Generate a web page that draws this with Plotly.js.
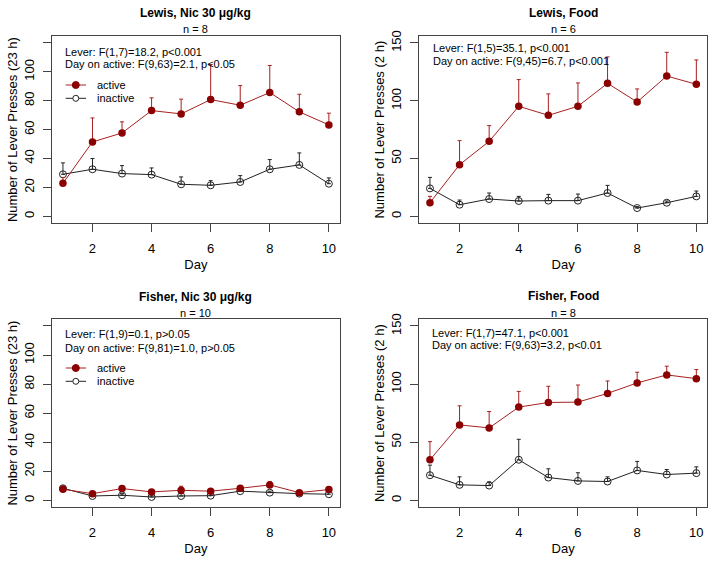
<!DOCTYPE html>
<html><head><meta charset="utf-8">
<script src="https://cdn.plot.ly/plotly-3.0.1.min.js"></script>
<style>html,body{margin:0;padding:0;background:#fff}</style>
</head><body><div id="chart" style="width:715px;height:563px"></div>
<script>
// ---------------- data ----------------
const days = [1, 2, 3, 4, 5, 6, 7, 8, 9, 10];

const lewisNicActive      = [22.9, 51.5, 57.7, 73.2, 70.9, 80.8, 76.9, 85.7, 72.3, 63.3];
const lewisNicActiveSem   = [4.0, 16.6, 7.7, 8.8, 10.2, 24.3, 13.6, 18.7, 12.2, 8.1];
const lewisNicInactive    = [29.1, 32.6, 29.6, 28.9, 22.2, 21.5, 23.8, 32.6, 35.6, 22.6];
const lewisNicInactiveSem = [7.9, 7.4, 5.5, 4.6, 5.1, 3.2, 4.4, 6.7, 8.3, 4.0];

const lewisFoodActive      = [11.8, 44.7, 64.9, 95.2, 87.4, 95.2, 115.1, 98.9, 121.4, 114.2];
const lewisFoodActiveSem   = [5.5, 20.8, 13.6, 23.1, 18.5, 20.2, 22.8, 11.3, 20.5, 21.1];
const lewisFoodInactive    = [24.2, 10.1, 15.0, 13.3, 13.6, 13.6, 20.2, 7.2, 11.8, 17.3];
const lewisFoodInactiveSem = [9.5, 4.0, 5.2, 4.0, 5.4, 5.7, 6.6, 1.2, 1.5, 4.6];

const fisherNicActive      = [7.6, 4.6, 8.1, 5.8, 6.9, 6.3, 8.3, 10.6, 5.3, 7.4];
const fisherNicActiveSem   = [2.1, 1.4, 1.2, 1.4, 2.8, 1.1, 1.7, 2.4, 1.0, 1.9];
const fisherNicInactive    = [8.3, 3.0, 3.5, 2.3, 3.0, 3.2, 6.3, 5.3, 4.6, 4.2];
const fisherNicInactiveSem = [1.4, 1.2, 1.1, 1.2, 1.6, 1.4, 1.3, 1.0, 1.0, 1.4];

const fisherFoodActive      = [34.9, 64.9, 62.3, 80.2, 84.2, 84.5, 92.0, 101.0, 107.9, 104.7];
const fisherFoodActiveSem   = [15.6, 16.4, 14.1, 13.5, 13.9, 14.7, 10.7, 9.2, 7.5, 7.8];
const fisherFoodInactive    = [21.6, 13.3, 12.7, 34.9, 19.6, 16.7, 16.2, 25.7, 22.2, 23.4];
const fisherFoodInactiveSem = [8.7, 6.9, 3.2, 17.6, 7.5, 7.0, 4.0, 7.8, 4.3, 5.4];

const panelTitles = ["Lewis, Nic 30 μg/kg", "Lewis, Food", "Fisher, Nic 30 μg/kg", "Fisher, Food"];
const panelN = ["n = 8", "n = 6", "n = 10", "n = 8"];
const statLever = ["Lever: F(1,7)=18.2, p<0.001", "Lever: F(1,5)=35.1, p<0.001",
                   "Lever: F(1,9)=0.1, p>0.05", "Lever: F(1,7)=47.1, p<0.001"];
const statDay = ["Day on active: F(9,63)=2.1, p<0.05", "Day on active: F(9,45)=6.7, p<0.001",
                 "Day on active: F(9,81)=1.0, p>0.05", "Day on active: F(9,63)=3.2, p<0.01"];
const yTitles = ["Number of Lever Presses (23 h)", "Number of Lever Presses (2 h)",
                 "Number of Lever Presses (23 h)", "Number of Lever Presses (2 h)"];
const xTitle = "Day";
const legendLabels = ["active", "inactive"];
const xTickVals = [2, 4, 6, 8, 10];
const nicYTickVals = [0, 20, 40, 60, 80, 100, 120];
const nicYTickText = ["0", "20", "40", "60", "80", "100", ""];
const foodYTickVals = [0, 50, 100, 150];
const foodYTickText = ["0", "50", "100", "150"];

// ---------------- layout helpers ----------------
const W = 715, H = 563;
const FONT = "Liberation Sans, Arial, Helvetica, sans-serif";
const RED = "#8b0000";
const RED_LINE = "#a82020";
const px = v => v / W;
const py = v => 1 - v / H;

const panels = [
  {x0: 52.3, x1: 339.5, y0: 36, y1: 223.3, titleY: 13.5, nY: 29.3, s1: 51.7, s2: 64, sx: 63.3, legend: true},
  {x0: 419.3, x1: 707, y0: 36, y1: 223.3, titleY: 12.5, nY: 29.3, s1: 48.3, s2: 61, sx: 431, legend: false},
  {x0: 52.3, x1: 339.5, y0: 319, y1: 507.3, titleY: 296.7, nY: 313.3, s1: 334.3, s2: 347.7, sx: 63.3, legend: true},
  {x0: 419.3, x1: 707, y0: 319, y1: 507.3, titleY: 296, nY: 313.3, s1: 332.7, s2: 345, sx: 430.3, legend: false}
];
const series = [
  [lewisNicActive, lewisNicActiveSem, lewisNicInactive, lewisNicInactiveSem],
  [lewisFoodActive, lewisFoodActiveSem, lewisFoodInactive, lewisFoodInactiveSem],
  [fisherNicActive, fisherNicActiveSem, fisherNicInactive, fisherNicInactiveSem],
  [fisherFoodActive, fisherFoodActiveSem, fisherFoodInactive, fisherFoodInactiveSem]
];
const isNic = [true, false, true, false];

const traces = [];
const layout = {
  width: W, height: H,
  margin: {l: 0, r: 0, t: 0, b: 0},
  paper_bgcolor: "#fff", plot_bgcolor: "#fff",
  showlegend: false,
  font: {family: FONT, color: "#000"},
  annotations: [], shapes: []
};

function axisBase() {
  return {
    showline: true, mirror: true, linecolor: "#444", linewidth: 1,
    ticks: "outside", ticklen: 8, tickcolor: "#444", tickwidth: 1,
    showgrid: false, zeroline: false, automargin: false, fixedrange: true,
    tickfont: {family: FONT, size: 13, color: "#000"}
  };
}

panels.forEach((p, i) => {
  const xa = i === 0 ? "x" : "x" + (i + 1);
  const ya = i === 0 ? "y" : "y" + (i + 1);
  const xk = i === 0 ? "xaxis" : "xaxis" + (i + 1);
  const yk = i === 0 ? "yaxis" : "yaxis" + (i + 1);
  const [act, actSem, inact, inactSem] = series[i];

  traces.push({
    type: "scatter", mode: "lines+markers", x: days, y: inact, xaxis: xa, yaxis: ya,
    name: legendLabels[1], cliponaxis: false,
    line: {color: "#222", width: 1},
    marker: {symbol: "circle-open", size: 7, color: "#222", line: {width: 1, color: "#222"}},
    error_y: {type: "data", symmetric: false, array: inactSem, arrayminus: days.map(() => 0),
              color: "#222", thickness: 1, width: 2}
  });
  traces.push({
    type: "scatter", mode: "lines+markers", x: days, y: act, xaxis: xa, yaxis: ya,
    name: legendLabels[0], cliponaxis: false,
    line: {color: RED_LINE, width: 1},
    marker: {symbol: "circle", size: 7.5, color: RED},
    error_y: {type: "data", symmetric: false, array: actSem, arrayminus: days.map(() => 0),
              color: RED_LINE, thickness: 1, width: 2}
  });

  const xaxis = Object.assign(axisBase(), {
    domain: [px(p.x0), px(p.x1)], anchor: ya, range: [0.64, 10.36],
    tickmode: "array", tickvals: xTickVals, ticktext: xTickVals.map(String),
    ticklabelstandoff: 5,
    title: {text: xTitle, font: {family: FONT, size: 13, color: "#000"}, standoff: 4}
  });
  const yaxis = Object.assign(axisBase(), {
    domain: [py(p.y1), py(p.y0)], anchor: xa,
    range: isNic[i] ? [-4.8, 124.8] : [-6, 156],
    tickmode: "array",
    tickvals: isNic[i] ? nicYTickVals : foodYTickVals,
    ticktext: isNic[i] ? nicYTickText : foodYTickText,
    tickangle: -90, ticklabelstandoff: 4,
    title: {text: yTitles[i], font: {family: FONT, size: 13, color: "#000"}, standoff: 1}
  });
  layout[xk] = xaxis;
  layout[yk] = yaxis;

  const cx = (p.x0 + p.x1) / 2;
  layout.annotations.push({xref: "paper", yref: "paper", x: px(cx), y: py(p.titleY),
    xanchor: "center", yanchor: "middle", showarrow: false,
    text: "<b>" + panelTitles[i] + "</b>", font: {family: FONT, size: 12, color: "#000"}});
  layout.annotations.push({xref: "paper", yref: "paper", x: px(cx), y: py(p.nY),
    xanchor: "center", yanchor: "middle", showarrow: false,
    text: panelN[i], font: {family: FONT, size: 11, color: "#000"}});
  layout.annotations.push({xref: "paper", yref: "paper", x: px(p.sx), y: py(p.s1),
    xanchor: "left", yanchor: "middle", showarrow: false,
    text: statLever[i], font: {family: FONT, size: 11, color: "#000"}});
  layout.annotations.push({xref: "paper", yref: "paper", x: px(p.sx), y: py(p.s2),
    xanchor: "left", yanchor: "middle", showarrow: false,
    text: statDay[i], font: {family: FONT, size: 11, color: "#000"}});

  if (p.legend) {
    const ly = [p.y0 + 49, p.y0 + 62.3];
    const lx0 = 65.7, lx1 = 86, lm = 75.8, lt = 95;
    const r = 3.5;
    layout.shapes.push({type: "line", xref: "paper", yref: "paper",
      x0: px(lx0), x1: px(lx1), y0: py(ly[0]), y1: py(ly[0]), line: {color: RED_LINE, width: 1}});
    layout.shapes.push({type: "circle", xref: "paper", yref: "paper",
      x0: px(lm - r), x1: px(lm + r), y0: py(ly[0] + r), y1: py(ly[0] - r),
      fillcolor: RED, line: {color: RED, width: 1}});
    layout.shapes.push({type: "line", xref: "paper", yref: "paper",
      x0: px(lx0), x1: px(lx1), y0: py(ly[1]), y1: py(ly[1]), line: {color: "#222", width: 1}});
    layout.shapes.push({type: "circle", xref: "paper", yref: "paper",
      x0: px(lm - 3), x1: px(lm + 3), y0: py(ly[1] + 3), y1: py(ly[1] - 3),
      fillcolor: "#fff", line: {color: "#222", width: 1}});
    legendLabels.forEach((lab, k) => {
      layout.annotations.push({xref: "paper", yref: "paper", x: px(lt), y: py(ly[k]),
        xanchor: "left", yanchor: "middle", showarrow: false,
        text: lab, font: {family: FONT, size: 11, color: "#000"}});
    });
  }
});

Plotly.newPlot("chart", traces, layout, {displayModeBar: false, staticPlot: true});
</script></body></html>
